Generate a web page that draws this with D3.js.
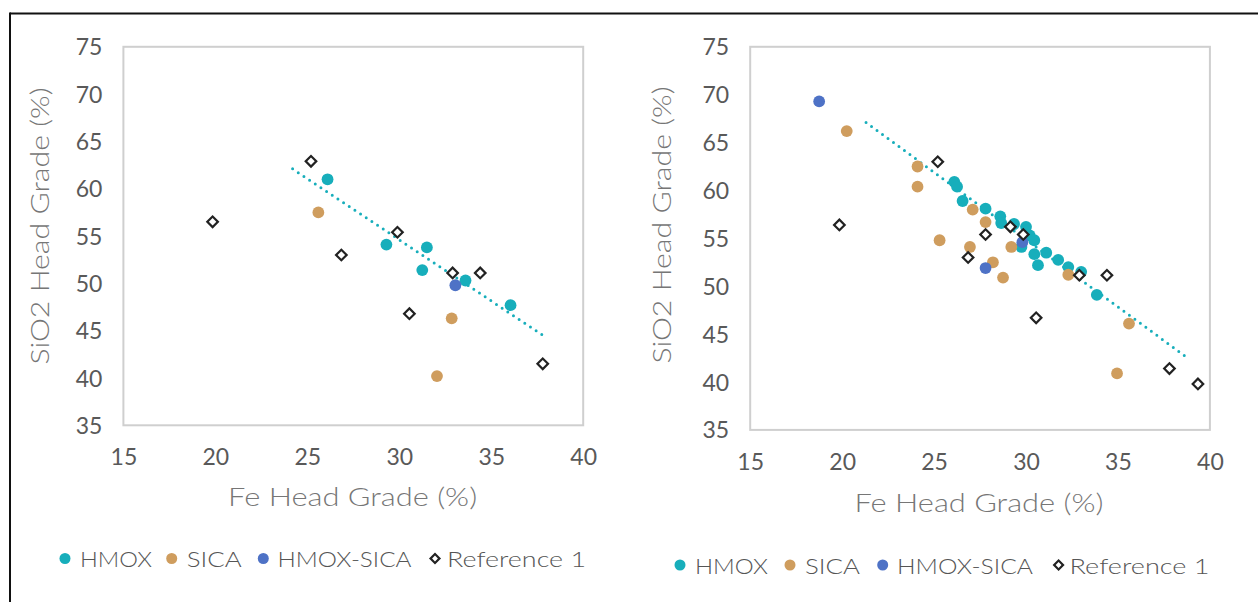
<!DOCTYPE html>
<html>
<head>
<meta charset="utf-8">
<script src="https://cdn.jsdelivr.net/npm/d3@7/dist/d3.min.js"></script>
<style>
  html, body { margin: 0; padding: 0; background: #fff; }
  svg { display: block; }
  text { font-family: Lato, "Open Sans", sans-serif; font-weight: 300; }
</style>
</head>
<body>
<svg id="chart" width="1258" height="602"></svg>
<script>
// ---------- data ----------
const xTicks = [15, 20, 25, 30, 35, 40];
const yTicks = [35, 40, 45, 50, 55, 60, 65, 70, 75];
const seriesNames = ["HMOX", "SICA", "HMOX-SICA", "Reference 1"];
const seriesColors = ["#17AEBB", "#CF9D5E", "#4E72C6", "#222222"];

// Left panel  [Fe, SiO2]
const leftHMOX = [[26.1, 61.0], [29.3, 54.1], [31.5, 53.8], [31.25, 51.4], [33.6, 50.3], [36.05, 47.7]];
const leftSICA = [[25.6, 57.5], [32.85, 46.3], [32.05, 40.2]];
const leftHMOXSICA = [[33.05, 49.8]];
const leftRef = [[25.2, 62.9], [19.85, 56.5], [29.9, 55.4], [26.85, 53.0], [32.9, 51.1], [34.4, 51.1], [30.55, 46.8], [37.8, 41.5]];
const leftTrend = [[24.2, 62.1], [37.9, 44.4]];

// Right panel  [Fe, SiO2]
const rightHMOX = [[26.1, 60.9], [26.25, 60.4], [26.55, 58.9], [27.8, 58.1], [28.6, 57.3], [28.65, 56.6],
  [29.35, 56.5], [30.0, 56.2], [30.2, 55.3], [30.45, 54.8], [29.75, 54.1], [30.45, 53.35], [31.1, 53.5],
  [30.65, 52.2], [31.75, 52.75], [32.3, 52.0], [33.0, 51.5], [33.85, 49.1]];
const rightSICA = [[20.25, 66.2], [24.1, 62.5], [24.1, 60.4], [25.3, 54.8], [27.1, 58.0], [27.8, 56.7],
  [26.95, 54.1], [29.2, 54.1], [28.2, 52.5], [28.75, 50.9], [32.3, 51.2], [35.6, 46.1], [34.95, 40.9]];
const rightHMOXSICA = [[18.75, 69.3], [27.8, 51.9], [29.8, 54.6]];
const rightRef = [[25.2, 63.0], [19.85, 56.4], [27.8, 55.4], [29.85, 55.4], [29.15, 56.2], [26.85, 53.0],
  [32.9, 51.15], [34.4, 51.15], [30.55, 46.7], [37.8, 41.4], [39.35, 39.8]];
const rightTrend = [[21.3, 67.1], [38.8, 42.5]];

const xTitle = "Fe Head Grade (%)";
const yTitle = "SiO2 Head Grade (%)";

// ---------- layout ----------
const panels = [
  { box: [123.4, 46.8, 583.2, 425.3], xTickY: 457, xTitleX: 352.6, xTitleY: 497, yTitleX: 40, yTitleY: 226,
    legY: 559.5, legX: [65, 171.7, 263.3, 435], legTextX: [80, 186.7, 277.5, 447],
    legW: [72, 55, 134, 139],
    series: [leftHMOX, leftSICA, leftHMOXSICA, leftRef], trend: leftTrend },
  { box: [750.2, 46.8, 1209.9, 429.9], xTickY: 462, xTitleX: 979, xTitleY: 503, yTitleX: 662, yTitleY: 225,
    legY: 566, legX: [680, 790, 882.7, 1058.6], legTextX: [695, 805, 897, 1069.5],
    legW: [73, 55, 136, 140],
    series: [rightHMOX, rightSICA, rightHMOXSICA, rightRef], trend: rightTrend }
];

const svg = d3.select("#chart");

// outer frame (top and left edges)
svg.append("line").attr("x1", 10).attr("y1", 13.5).attr("x2", 1258).attr("y2", 13.5)
  .attr("stroke", "#111").attr("stroke-width", 2);
svg.append("line").attr("x1", 10).attr("y1", 12.5).attr("x2", 10).attr("y2", 602)
  .attr("stroke", "#111").attr("stroke-width", 2);

const tickColor = "#595959";
const legColor = "#555555";
const titleColor = "#767676";

panels.forEach(p => {
  const [x0, y0, x1, y1] = p.box;
  const x = d3.scaleLinear().domain([15, 40]).range([x0, x1]);
  const y = d3.scaleLinear().domain([35, 75]).range([y1, y0]);
  const g = svg.append("g");

  // plot border
  g.append("rect").attr("x", x0).attr("y", y0).attr("width", x1 - x0).attr("height", y1 - y0)
    .attr("fill", "none").attr("stroke", "#CFCFCF").attr("stroke-width", 2);

  // y ticks via axis
  const yAxis = d3.axisLeft(y).tickValues(yTicks).tickSize(0).tickPadding(21);
  const ya = g.append("g").attr("transform", `translate(${x0},0)`).call(yAxis);
  ya.select(".domain").remove();
  ya.selectAll("text").attr("fill", tickColor).style("font-size", "23px")
    .style("font-family", "Lato, sans-serif").style("font-weight", "400").attr("dy", "0.35em");

  const xAxis = d3.axisBottom(x).tickValues(xTicks).tickSize(0).tickPadding(0);
  const xa = g.append("g").attr("transform", `translate(0,${p.xTickY})`).call(xAxis);
  xa.select(".domain").remove();
  xa.selectAll("text").attr("fill", tickColor).style("font-size", "23px")
    .style("font-family", "Lato, sans-serif").style("font-weight", "400").attr("dy", "0.35em").attr("y", 0);

  // axis titles
  g.append("text").attr("x", p.xTitleX).attr("y", p.xTitleY).attr("dy", "0.35em")
    .attr("text-anchor", "middle").attr("fill", titleColor).style("font-size", "26px")
    .attr("textLength", 249).attr("lengthAdjust", "spacingAndGlyphs").text(xTitle);
  g.append("text").attr("transform", `translate(${p.yTitleX},${p.yTitleY}) rotate(-90)`)
    .attr("dy", "0.35em").attr("text-anchor", "middle").attr("fill", titleColor)
    .style("font-size", "26px").attr("textLength", 277).attr("lengthAdjust", "spacingAndGlyphs")
    .text(yTitle);

  // trendline
  g.append("path").datum(p.trend)
    .attr("d", d3.line().x(d => x(d[0])).y(d => y(d[1])))
    .attr("stroke", seriesColors[0]).attr("stroke-width", 3)
    .attr("stroke-linecap", "round").attr("stroke-dasharray", "0 6.8").attr("fill", "none");

  // marker series
  const dia = d3.symbol().type(d3.symbolSquare).size(56);
  p.series.forEach((data, i) => {
    if (i < 3) {
      g.append("g").selectAll("circle").data(data).join("circle")
        .attr("cx", d => x(d[0])).attr("cy", d => y(d[1])).attr("r", 5.9)
        .attr("fill", seriesColors[i]);
    } else {
      g.append("g").selectAll("path").data(data).join("path")
        .attr("d", dia)
        .attr("transform", d => `translate(${x(d[0])},${y(d[1])}) rotate(45)`)
        .attr("fill", "#fff").attr("stroke", seriesColors[i]).attr("stroke-width", 2.2);
    }
  });

  // legend
  seriesNames.forEach((name, i) => {
    if (i < 3) {
      g.append("circle").attr("cx", p.legX[i]).attr("cy", p.legY - 1).attr("r", 5.5)
        .attr("fill", seriesColors[i]);
    } else {
      g.append("path").attr("d", d3.symbol().type(d3.symbolSquare).size(40))
        .attr("transform", `translate(${p.legX[i]},${p.legY - 1}) rotate(45)`)
        .attr("fill", "#fff").attr("stroke", seriesColors[i]).attr("stroke-width", 2.2);
    }
    g.append("text").attr("x", p.legTextX[i]).attr("y", p.legY).attr("dy", "0.35em")
      .attr("fill", legColor).style("font-size", "22px")
      .attr("textLength", p.legW[i]).attr("lengthAdjust", "spacingAndGlyphs").text(name);
  });
});
</script>
</body>
</html>
